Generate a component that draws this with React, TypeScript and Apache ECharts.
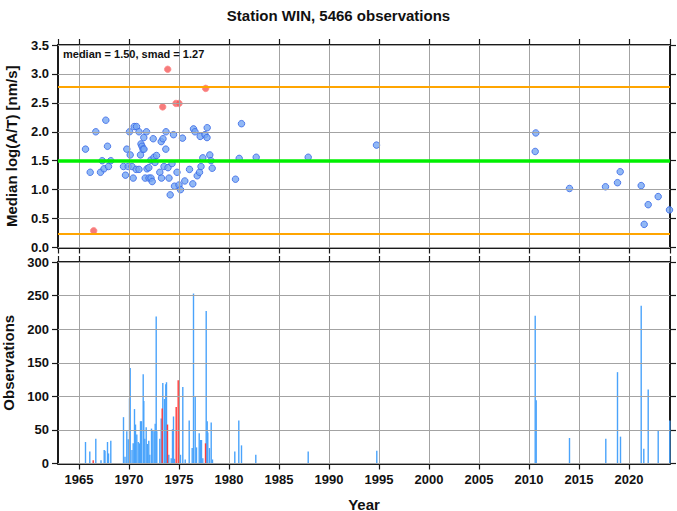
import React, { useEffect, useRef } from "react";
import * as echarts from "echarts";

// ---- data ----
const title = "Station WIN, 5466 observations";
const statsText = "median = 1.50, smad = 1.27";
const medianValue = 1.5;
const smadValue = 1.27;

// median log(A/T) per measurement period (inliers)
const medYears = [
  1965.65, 1966.12, 1966.68, 1967.15, 1967.32, 1967.5, 1967.68, 1967.85, 1967.95, 1968.18,
  1969.45, 1969.65, 1969.78, 1969.92, 1970.05, 1970.12, 1970.3, 1970.42, 1970.52, 1970.72,
  1970.75, 1971.0, 1971.0, 1971.15, 1971.2, 1971.3, 1971.4, 1971.48, 1971.5, 1971.62,
  1971.75, 1971.8, 1971.98, 1972.0, 1972.18, 1972.2, 1972.32, 1972.42, 1972.5, 1972.6,
  1972.75, 1973.08, 1973.22, 1973.25, 1973.4, 1973.5, 1973.68, 1973.7, 1973.9, 1974.0,
  1974.12, 1974.3, 1974.45, 1974.55, 1974.8, 1975.0, 1975.15, 1975.35, 1975.58, 1976.05,
  1976.38, 1976.45, 1976.6, 1976.82, 1977.05, 1977.12, 1977.2, 1977.38, 1977.6, 1977.82,
  1977.8, 1978.08, 1978.2, 1978.32, 1980.65, 1981.02, 1981.25, 1982.72, 1987.92, 1994.75,
  2010.68, 2010.62, 2014.05, 2017.65, 2018.85, 2019.12, 2021.22, 2021.52, 2021.92, 2022.92,
  2024.05,
];
const medValues = [
  1.7, 1.3, 2.0, 1.3, 1.5, 1.36, 2.2, 1.75, 1.4, 1.5,
  1.4, 1.25, 1.7, 1.4, 2.0, 1.6, 1.4, 1.2, 2.09, 1.35,
  2.09, 1.35, 2.0, 1.6, 1.79, 1.75, 1.7, 1.9, 1.7, 1.2,
  2.0, 1.36, 1.38, 1.2, 1.51, 1.2, 1.14, 1.88, 1.56, 1.47,
  1.59, 1.3, 1.83, 1.2, 1.88, 1.4, 1.7, 2.0, 1.38, 1.2,
  0.91, 1.45, 1.95, 1.06, 1.3, 1.08, 1.0, 1.89, 1.15, 1.35,
  1.1, 2.05, 2.0, 1.24, 1.3, 1.92, 1.4, 1.55, 1.95, 2.07,
  1.9, 1.6, 1.5, 1.37, 1.18, 1.54, 2.14, 1.56, 1.56, 1.77,
  1.98, 1.66, 1.02, 1.05, 1.12, 1.31, 1.07, 0.4, 0.74, 0.88,
  0.65,
];

// outlier periods
const outYears = [1966.47, 1973.37, 1973.87, 1974.7, 1975.0, 1977.67];
const outValues = [0.29, 2.43, 3.08, 2.49, 2.49, 2.75];

// observation counts per period (inliers)
const obsYears = [
  1965.65, 1966.08, 1966.68, 1967.2, 1967.52, 1967.6, 1967.85, 1967.95, 1968.18, 1969.45,
  1969.6, 1969.78, 1969.92, 1970.05, 1970.12, 1970.3, 1970.42, 1970.55, 1970.65, 1970.78,
  1970.92, 1971.05, 1971.15, 1971.25, 1971.42, 1971.48, 1971.58, 1971.72, 1971.85, 1971.98,
  1972.08, 1972.25, 1972.38, 1972.52, 1972.62, 1972.72, 1972.78, 1973.08, 1973.22, 1973.38,
  1973.55, 1973.68, 1973.75, 1973.98, 1974.22, 1974.35, 1974.45, 1974.55, 1975.02, 1975.15,
  1975.38, 1975.62, 1976.02, 1976.32, 1976.45, 1976.62, 1976.75, 1977.02, 1977.15, 1977.25,
  1977.38, 1977.72, 1977.82, 1977.88, 1978.05, 1978.22, 1978.35, 1980.58, 1980.98, 1981.25,
  1982.68, 1987.92, 1994.78, 2010.62, 2010.72, 2014.05, 2017.68, 2018.85, 2019.15, 2021.22,
  2021.48, 2021.92, 2022.92, 2024.08,
];
const obsCounts = [
  32, 18, 37, 5, 20, 19, 32, 15, 34, 69,
  10, 48, 36, 97, 142, 20, 30, 81, 58, 43,
  32, 30, 63, 63, 133, 93, 37, 54, 29, 34,
  13, 52, 50, 48, 59, 219, 48, 37, 67, 120,
  96, 118, 121, 13, 8, 51, 70, 7, 24, 13,
  114, 6, 64, 23, 253, 100, 24, 45, 35, 35,
  8, 227, 63, 46, 23, 61, 6, 18, 64, 27,
  13, 18, 19, 220, 94, 38, 37, 136, 40, 235,
  22, 110, 49, 64,
];

// observation counts of outlier periods
const outObsYears = [1966.42, 1973.32, 1973.85, 1974.72, 1974.92, 1977.65];
const outObsCounts = [5, 82, 58, 84, 124, 30];

const yearMin = 1962.9;
const yearMax = 2024.1;
const yearTicks = [1965, 1970, 1975, 1980, 1985, 1990, 1995, 2000, 2005, 2010, 2015, 2020];
const medTicks = [0, 0.5, 1.0, 1.5, 2.0, 2.5, 3.0, 3.5];
const obsTicks = [0, 50, 100, 150, 200, 250, 300];

const FONT = "'Liberation Sans', Arial, Helvetica, sans-serif";
const GRID_COLOR = "#a3a3a3";

export default function App() {
  const ref = useRef<HTMLDivElement>(null);

  useEffect(() => {
    if (!ref.current) return;
    const chart = echarts.init(ref.current, undefined, { renderer: "svg" });

    const mkFrame = () => ({ show: true, onZero: false, lineStyle: { color: "#1a1a1a", width: 2 } });
    const mkTick = () => ({ show: true, inside: false, length: 6, lineStyle: { color: "#1a1a1a", width: 1.2 } });
    const tickLabel = () => ({ fontFamily: FONT, fontSize: 13, fontWeight: "bold", color: "#111" });

    const xAx = (grid: number, position: string, labels: boolean) => ({
      type: "value",
      gridIndex: grid,
      position,
      min: yearMin,
      max: yearMax,
      minInterval: 5,
      maxInterval: 5,
      axisLine: mkFrame(),
      axisTick: mkTick(),
      splitLine: { show: false },
      axisLabel: labels
        ? { ...tickLabel(), margin: 9, showMinLabel: false, showMaxLabel: false, formatter: (v: number) => String(Math.round(v)) }
        : { show: false },
    });
    const yAx = (grid: number, position: string, lo: number, hi: number, step: number, labels: boolean, dec: number) => ({
      type: "value",
      gridIndex: grid,
      position,
      min: lo,
      max: hi,
      interval: step,
      axisLine: mkFrame(),
      axisTick: mkTick(),
      splitLine: { show: false },
      axisLabel: labels ? { ...tickLabel(), margin: 9, formatter: (v: number) => v.toFixed(dec) } : { show: false },
    });

    // grid lines drawn as markLines at tick values
    const gridLineSeries = (xi: number, yi: number, ys: number[]) => ({
      type: "line",
      xAxisIndex: xi,
      yAxisIndex: yi,
      data: [],
      z: 0,
      silent: true,
      markLine: {
        silent: true,
        symbol: "none",
        label: { show: false },
        animation: false,
        lineStyle: { color: GRID_COLOR, width: 1, type: "solid" },
        data: [...yearTicks.map((v) => ({ xAxis: v })), ...ys.map((v) => ({ yAxis: v }))],
      },
    });

    const blueDot = { color: "#76a6f2", borderColor: "#3465e6", borderWidth: 1 };
    const redDot = { color: "#f45a5a", borderColor: "#ff8a8a", borderWidth: 1 };

    const barData = [
      ...obsYears.map((y, i) => ({ value: [y, obsCounts[i]], itemStyle: { color: "#4aa3fb" } })),
      ...outObsYears.map((y, i) => ({ value: [y, outObsCounts[i]], itemStyle: { color: "#ff3b3b" } })),
    ];

    const nameStyle = () => ({ fontFamily: FONT, fontSize: 15, fontWeight: "bold", color: "#111" });

    const x2 = xAx(1, "bottom", true) as any;
    x2.name = "Year";
    x2.nameLocation = "middle";
    x2.nameGap = 33;
    x2.nameTextStyle = nameStyle();

    const y0 = yAx(0, "left", 0, 3.5, 0.5, true, 1) as any;
    y0.name = "Median log(A/T) [nm/s]";
    y0.nameLocation = "middle";
    y0.nameGap = 39;
    y0.nameTextStyle = nameStyle();

    const y2 = yAx(1, "left", 0, 300, 50, true, 0) as any;
    y2.name = "Observations";
    y2.nameLocation = "middle";
    y2.nameGap = 41;
    y2.nameTextStyle = nameStyle();

    chart.setOption({
      animation: false,
      backgroundColor: "#ffffff",
      title: {
        text: title,
        left: "center",
        top: 3,
        textStyle: { fontFamily: FONT, fontSize: 15, fontWeight: "bold", color: "#111" },
      },
      grid: [
        { left: 58, top: 45, width: 612, height: 202.5, containLabel: false, outerBoundsMode: "none" },
        { left: 58, top: 262, width: 612, height: 201.5, containLabel: false, outerBoundsMode: "none" },
      ],
      xAxis: [xAx(0, "bottom", false), xAx(0, "top", false), x2, xAx(1, "top", false)],
      yAxis: [
        y0,
        yAx(0, "right", 0, 3.5, 0.5, false, 1),
        y2,
        yAx(1, "right", 0, 300, 50, false, 0),
      ],
      graphic: [
        {
          type: "text",
          left: 63,
          top: 48,
          z: 100,
          style: { text: statsText, fontFamily: FONT, fontSize: 11, fontWeight: "bold", fill: "#111" },
        },
      ],
      series: [
        gridLineSeries(0, 0, medTicks),
        gridLineSeries(2, 2, obsTicks),
        {
          type: "line",
          xAxisIndex: 0,
          yAxisIndex: 0,
          data: [],
          z: 1,
          silent: true,
          markLine: {
            silent: true,
            symbol: "none",
            label: { show: false },
            animation: false,
            data: [
              { yAxis: medianValue + smadValue, lineStyle: { color: "#ffa500", width: 2.2, type: "solid" } },
              { yAxis: medianValue - smadValue, lineStyle: { color: "#ffa500", width: 2.2, type: "solid" } },
              { yAxis: medianValue, lineStyle: { color: "#00f000", width: 3.5, type: "solid" } },
            ],
          },
        },
        {
          type: "scatter",
          xAxisIndex: 0,
          yAxisIndex: 0,
          symbol: "circle",
          symbolSize: 6.5,
          itemStyle: blueDot,
          z: 3,
          data: medYears.map((y, i) => [y, medValues[i]]),
        },
        {
          type: "scatter",
          xAxisIndex: 0,
          yAxisIndex: 0,
          symbol: "circle",
          symbolSize: 6.5,
          itemStyle: redDot,
          z: 3,
          data: outYears.map((y, i) => [y, outValues[i]]),
        },
        {
          type: "bar",
          xAxisIndex: 2,
          yAxisIndex: 2,
          barWidth: 1.4,
          z: 3,
          data: barData,
        },
      ],
    });

    return () => chart.dispose();
  }, []);

  return (
    <div
      ref={ref}
      style={{ position: "absolute", left: 0, top: 0, width: 677, height: 511, background: "#fff" }}
    />
  );
}
